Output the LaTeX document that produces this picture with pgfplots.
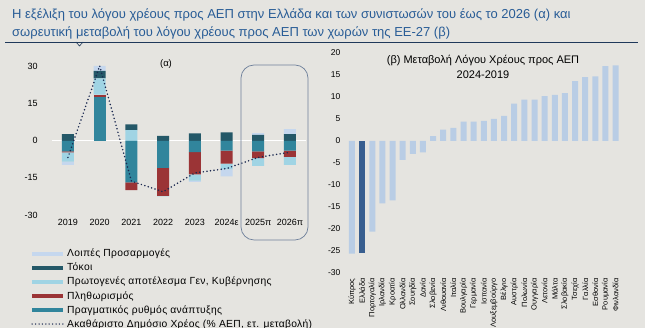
\documentclass[border=0pt]{standalone}
\usepackage{fontspec}
\setmainfont{Liberation Sans}
\usepackage{pgfplots}
\pgfplotsset{compat=1.18}
\definecolor{bg}{RGB}{229,228,224}
\definecolor{titleblue}{RGB}{40,92,150}
\definecolor{rulenavy}{RGB}{31,56,90}
\definecolor{cother}{RGB}{197,215,238}
\definecolor{cint}{RGB}{36,88,104}
\definecolor{cprim}{RGB}{160,212,228}
\definecolor{cinfl}{RGB}{155,52,54}
\definecolor{cgrowth}{RGB}{49,133,156}
\definecolor{cline}{RGB}{26,40,80}
\definecolor{clight}{RGB}{185,205,229}
\definecolor{cdark}{RGB}{56,94,143}
\definecolor{boxc}{RGB}{110,128,155}
\pgfplotsset{
  leftbase/.style={
    scale only axis, width=253.7pt, height=148.3pt,
    xmin=-0.5, xmax=7.5, ymin=-30, ymax=30, clip=false,
    axis line style={draw=none}, tick style={draw=none},
    at={(52.1pt,113pt)}, anchor=south west,
  },
  dotline/.style={cline, line width=1.7pt, dash pattern=on 0pt off 3.6pt, line cap=round},
}
\begin{document}
\begin{tikzpicture}[x=1pt,y=1pt]
\useasboundingbox (0,0) rectangle (651,328);
\fill[white] (0,0) rectangle (651,328);
\fill[bg] (0,0) rectangle (645,328);
% title
\node[anchor=base west, text=titleblue, font=\fontsize{13}{14}\selectfont, inner sep=0pt] at (12,309) {Η εξέλιξη του λόγου χρέους προς ΑΕΠ στην Ελλάδα και των συνιστωσών του έως το 2026 (α) και};
\node[anchor=base west, text=titleblue, font=\fontsize{13}{14}\selectfont, inner sep=0pt] at (12,291) {σωρευτική μεταβολή του λόγου χρέους προς ΑΕΠ των χωρών της ΕΕ-27 (β)};
\draw[rulenavy, line width=0.8pt] (5,286) -- (638,286);
\draw[rulenavy, line width=0.6pt] (76,286) -- (79.5,282) -- (83,286);

% left chart: positive parts
\begin{axis}[leftbase,
  ybar stacked, bar width=12pt,
  ytick={-30,-15,0,15,30},
  xtick={0,...,7}, xticklabels={2019,2020,2021,2022,2023,2024ε,2025π,2026π},
  /pgf/number format/assume math mode=true,
  ticklabel style={font=\fontsize{9}{10}\selectfont},
  yticklabel style={xshift=-11pt},
  xticklabel style={yshift=-1pt},
  extra y ticks={0}, extra y tick labels={\empty},
  extra y tick style={grid=major, major grid style={white, line width=0.8pt}},
]
\addplot[fill=cgrowth, draw=none] coordinates {(0,0) (1,17.9) (2,0) (3,0) (4,0) (5,0) (6,0) (7,0)};
\addplot[fill=cinfl, draw=none] coordinates {(0,0) (1,0.8) (2,0) (3,0) (4,0) (5,0) (6,0) (7,0)};
\addplot[fill=cprim, draw=none] coordinates {(0,0) (1,6.6) (2,4.3) (3,0) (4,0) (5,0) (6,0) (7,0)};
\addplot[fill=cint, draw=none] coordinates {(0,2.7) (1,3.0) (2,2.4) (3,2.0) (4,3.0) (5,3.4) (6,2.4) (7,2.7)};
\addplot[fill=cother, draw=none] coordinates {(0,0) (1,2.0) (2,0) (3,0) (4,0) (5,0) (6,0.7) (7,2.0)};
\end{axis}
% left chart: negative parts
\begin{axis}[leftbase, hide axis, ybar stacked, bar width=12pt]
\addplot[fill=cgrowth, draw=none] coordinates {(0,-4.3) (1,0) (2,-16.8) (3,-10.9) (4,-4.6) (5,-4.0) (6,-4.3) (7,-4.0)};
\addplot[fill=cinfl, draw=none] coordinates {(0,-0.4) (1,0) (2,-3.1) (3,-11.4) (4,-9.0) (5,-5.2) (6,-2.7) (7,-2.5)};
\addplot[fill=cprim, draw=none] coordinates {(0,-3.7) (1,0) (2,0) (3,-0.2) (4,-2.5) (5,-2.3) (6,-3.1) (7,-3.2)};
\addplot[fill=cother, draw=none] coordinates {(0,-1.3) (1,0) (2,0) (3,0) (4,-0.5) (5,-2.9) (6,0) (7,0)};
\end{axis}
% left chart: line + legend
\begin{axis}[leftbase, hide axis,
  legend style={at={(-0.087,-0.215)}, anchor=north west, draw=none, fill=none,
    font=\fontsize{10.3}{11}\selectfont\addfontfeatures{LetterSpace=3}, cells={anchor=west}, row sep=0.8pt,
    inner sep=0pt},
]
\addlegendimage{legend image code/.code={\draw[cother, line width=4pt] (0pt,0pt)--(31pt,0pt);}}
\addlegendentry{Λοιπές Προσαρμογές}
\addlegendimage{legend image code/.code={\draw[cint, line width=4pt] (0pt,0pt)--(31pt,0pt);}}
\addlegendentry{Τόκοι}
\addlegendimage{legend image code/.code={\draw[cprim, line width=4pt] (0pt,0pt)--(31pt,0pt);}}
\addlegendentry{Πρωτογενές αποτέλεσμα Γεν, Κυβέρνησης}
\addlegendimage{legend image code/.code={\draw[cinfl, line width=4pt] (0pt,0pt)--(31pt,0pt);}}
\addlegendentry{Πληθωρισμός}
\addlegendimage{legend image code/.code={\draw[cgrowth, line width=4pt] (0pt,0pt)--(31pt,0pt);}}
\addlegendentry{Πραγματικός ρυθμός ανάπτυξης}
\addplot[dotline, legend image code/.code={\draw[cline, line width=1.5pt, dash pattern=on 0pt off 3.4pt, line cap=round] (0pt,0pt)--(31pt,0pt);}]
  coordinates {(0,-6.7) (1,30.3) (2,-16.3) (3,-20.6) (4,-13.0) (5,-11.2) (6,-6.7) (7,-4.6)};
\addlegendentry{Ακαθάριστο Δημόσιο Χρέος (\% ΑΕΠ, ετ. μεταβολή)}
\end{axis}
\node[font=\fontsize{9.5}{10}\selectfont] at (166,264) {(α)};
\draw[boxc, line width=0.7pt, rounded corners=13pt] (241,88) rectangle (308,263);

% right chart
\begin{axis}[scale only axis, width=273.8pt, height=220pt, at={(346.9pt,55pt)}, anchor=south west,
  xmin=-0.5, xmax=26.5, ymin=-30, ymax=20, clip=false,
  axis line style={draw=none}, tick style={draw=none},
  ybar, bar width=6pt, bar shift=0pt,
  ytick={-30,-25,...,20},
  /pgf/number format/assume math mode=true,
  yticklabel style={font=\fontsize{8.5}{10}\selectfont, xshift=-3pt},
  xtick={0,...,26},
  xticklabels={Κύπρος,Ελλάδα,Πορτογαλία,Ιρλανδία,Κροατία,Ολλανδία,Σουηδία,Δανία,Σλοβενία,Λιθουανία,Ιταλία,Βουλγαρία,Γερμανία,Ισπανία,Λουξεμβούργο,Βέλγιο,Αυστρία,Πολωνία,Ουγγαρία,Λετονία,Μάλτα,Σλοβακία,Τσεχία,Γαλλία,Εσθονία,Ρουμανία,Φινλανδία},
  xticklabel style={rotate=90, anchor=east, font=\fontsize{7.5}{8}\selectfont, inner sep=1pt},
]
\addplot[fill=clight, draw=none] coordinates {(0,-25.6) (2,-20.6) (3,-14.2) (4,-13.5) (5,-4.3) (6,-2.9) (7,-2.6) (8,1.1) (9,2.6) (10,3.0) (11,4.4) (12,4.4) (13,4.6) (14,5.0) (15,5.7) (16,8.5) (17,9.4) (18,9.4) (19,10.2) (20,10.5) (21,10.9) (22,13.6) (23,14.5) (24,14.7) (25,17.0) (26,17.2)};
\addplot[fill=cdark, draw=none] coordinates {(1,-25.5)};
\end{axis}
\node[font=\fontsize{11}{15}\selectfont, align=center] at (483,261) {(β) Μεταβολή Λόγου Χρέους προς ΑΕΠ\\2024-2019};
\end{tikzpicture}
\end{document}
